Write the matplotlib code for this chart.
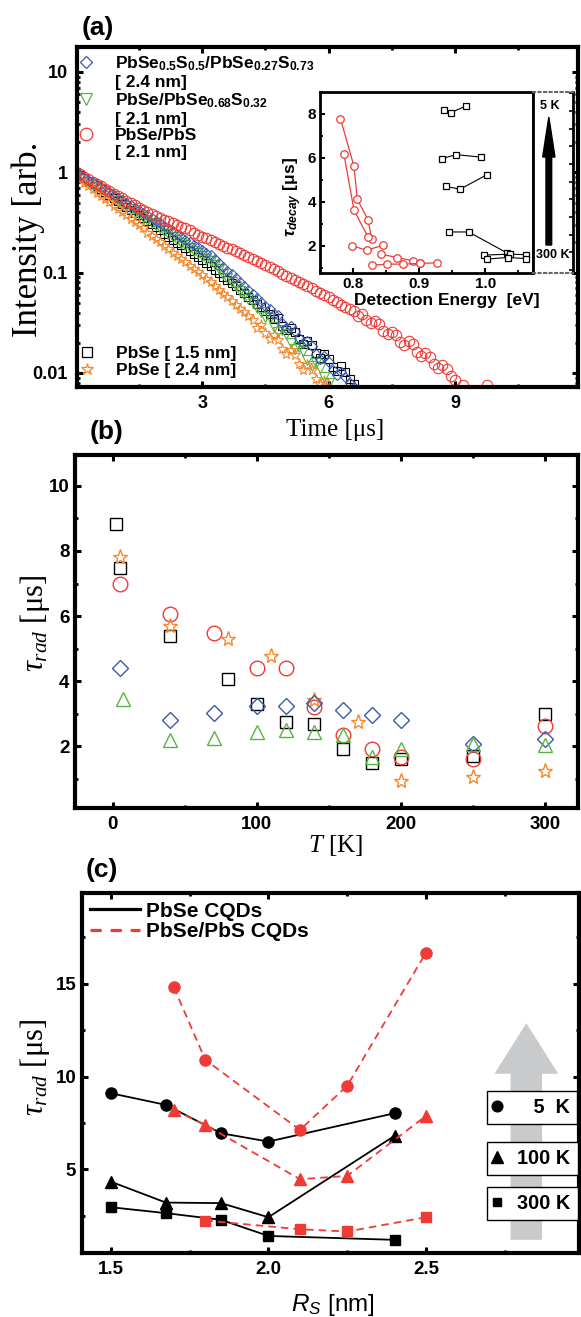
import numpy as np
import matplotlib
matplotlib.use("Agg")
import matplotlib.pyplot as plt
from matplotlib.lines import Line2D
from matplotlib.patches import FancyArrow
from matplotlib.ticker import MultipleLocator, LogLocator, NullFormatter

# ---------------- data ----------------
# (a) PL decay traces: log10(intensity), sampled every 0.1 us
t_step = 0.1
logI_pbse15 = [0.00, -0.03, -0.06, -0.09, -0.12, -0.14, -0.17, -0.20, -0.23, -0.26,
               -0.29, -0.32, -0.35, -0.38, -0.41, -0.43, -0.46, -0.49, -0.52, -0.55,
               -0.58, -0.61, -0.64, -0.67, -0.70, -0.72, -0.75, -0.78, -0.81, -0.84,
               -0.87, -0.90, -0.93, -0.97, -1.00, -1.04, -1.07, -1.10, -1.13, -1.17,
               -1.20, -1.24, -1.27, -1.31, -1.34, -1.38, -1.41, -1.46, -1.45, -1.53,
               -1.57, -1.55, -1.59, -1.66, -1.71, -1.68, -1.72, -1.80, -1.85, -1.81,
               -1.86, -1.94, -1.98, -1.93, -1.99, -2.06, -2.11]
logI_grad = [-0.02, -0.05, -0.07, -0.10, -0.13, -0.15, -0.18, -0.21, -0.24, -0.26,
             -0.29, -0.32, -0.34, -0.37, -0.40, -0.42, -0.45, -0.48, -0.51, -0.53,
             -0.56, -0.59, -0.61, -0.64, -0.67, -0.70, -0.72, -0.75, -0.78, -0.80,
             -0.83, -0.86, -0.88, -0.92, -0.96, -1.01, -1.05, -1.09, -1.13, -1.18,
             -1.22, -1.26, -1.30, -1.35, -1.39, -1.44, -1.45, -1.54, -1.59, -1.57,
             -1.61, -1.70, -1.76, -1.74, -1.78, -1.87, -1.93, -1.90, -1.95, -2.04,
             -2.10]
logI_alloy = [0.00, -0.03, -0.05, -0.08, -0.10, -0.13, -0.15, -0.18, -0.20, -0.23,
              -0.26, -0.28, -0.31, -0.33, -0.36, -0.38, -0.41, -0.43, -0.46, -0.49,
              -0.51, -0.54, -0.56, -0.59, -0.61, -0.64, -0.67, -0.69, -0.72, -0.74,
              -0.77, -0.80, -0.82, -0.86, -0.90, -0.94, -0.98, -1.01, -1.05, -1.09,
              -1.13, -1.17, -1.21, -1.25, -1.29, -1.33, -1.36, -1.41, -1.42, -1.50,
              -1.55, -1.53, -1.58, -1.65, -1.70, -1.68, -1.73, -1.81, -1.86, -1.83,
              -1.89, -1.97, -2.02, -1.99, -2.04, -2.10, -2.14]
logI_pbse24 = [-0.04, -0.07, -0.11, -0.14, -0.17, -0.21, -0.24, -0.27, -0.30, -0.34,
               -0.37, -0.40, -0.43, -0.47, -0.50, -0.53, -0.56, -0.60, -0.63, -0.66,
               -0.69, -0.73, -0.76, -0.80, -0.83, -0.86, -0.89, -0.93, -0.96, -0.99,
               -1.02, -1.06, -1.09, -1.13, -1.17, -1.21, -1.24, -1.28, -1.32, -1.36,
               -1.39, -1.43, -1.47, -1.55, -1.52, -1.60, -1.66, -1.62, -1.67, -1.76,
               -1.81, -1.77, -1.82, -1.91, -1.97, -1.92, -1.97, -2.06, -2.11, -2.08,
               -2.15]
logI_cs = [0.00, -0.02, -0.05, -0.07, -0.10, -0.12, -0.14, -0.17, -0.19, -0.22,
           -0.24, -0.26, -0.29, -0.31, -0.33, -0.36, -0.38, -0.40, -0.42, -0.44,
           -0.46, -0.48, -0.49, -0.51, -0.53, -0.55, -0.56, -0.58, -0.60, -0.62,
           -0.64, -0.65, -0.67, -0.69, -0.71, -0.73, -0.75, -0.76, -0.78, -0.80,
           -0.82, -0.84, -0.86, -0.88, -0.90, -0.92, -0.94, -0.96, -0.98, -1.01,
           -1.03, -1.05, -1.07, -1.09, -1.11, -1.13, -1.15, -1.18, -1.20, -1.22,
           -1.24, -1.27, -1.29, -1.32, -1.34, -1.36, -1.38, -1.43, -1.41, -1.47,
           -1.50, -1.48, -1.51, -1.58, -1.61, -1.59, -1.62, -1.69, -1.72, -1.68,
           -1.71, -1.79, -1.83, -1.80, -1.84, -1.91, -1.95, -1.92, -1.96, -2.03,
           -2.07]
t_cs_tail = [9.2, 9.75]
logI_cs_tail = [-2.12, -2.12]

# (a) inset: tau_decay vs detection energy
inset_red_E = [[0.781, 0.8015, 0.8065, 0.823, 0.828],
               [0.786, 0.8015, 0.8226],
               [0.799, 0.8206, 0.8457],
               [0.842, 0.867, 0.891, 0.901],
               [0.829, 0.852, 0.875, 0.901, 0.927]]
inset_red_tau = [[7.77, 5.61, 4.11, 3.16, 2.33],
                 [6.19, 3.62, 2.41],
                 [2.00, 1.80, 2.03],
                 [1.62, 1.47, 1.32, 1.20],
                 [1.12, 1.17, 1.17, 1.20, 1.23]]
inset_blk_E = [[0.937, 0.948, 0.971],
               [0.934, 0.956, 0.9936],
               [0.941, 0.962, 1.0026],
               [0.945, 0.975, 1.033],
               [0.9976, 1.037, 1.062],
               [1.0026, 1.034, 1.062]]
inset_blk_tau = [[8.15, 8.05, 8.35],
                 [5.96, 6.14, 6.03],
                 [4.70, 4.57, 5.23],
                 [2.63, 2.63, 1.68],
                 [1.58, 1.62, 1.60],
                 [1.40, 1.47, 1.42]]

# (b) tau_rad vs temperature
T_pbse15 = [2, 5, 40, 80, 100, 120, 140, 160, 180, 200, 250, 300]
tau_pbse15 = [8.82, 7.47, 5.38, 4.08, 3.29, 2.75, 2.68, 1.90, 1.47, 1.60, 1.69, 2.98]
T_cs = [5, 40, 70, 100, 120, 140, 160, 180, 200, 250, 300]
tau_cs = [6.98, 6.05, 5.47, 4.41, 4.41, 3.21, 2.34, 1.90, 1.67, 1.60, 2.62]
T_pbse24 = [5, 40, 80, 110, 140, 170, 200, 250, 300]
tau_pbse24 = [7.81, 5.69, 5.28, 4.77, 3.42, 2.75, 0.93, 1.04, 1.24]
T_alloy = [5, 40, 70, 100, 120, 140, 160, 180, 200, 250, 300]
tau_alloy = [4.39, 2.82, 3.01, 3.24, 3.24, 3.33, 3.11, 2.97, 2.82, 2.08, 2.21]
T_grad = [7, 40, 70, 100, 120, 140, 160, 180, 200, 250, 300]
tau_grad = [3.44, 2.18, 2.24, 2.44, 2.49, 2.44, 2.34, 1.67, 1.90, 2.06, 2.03]

# (c) tau_rad vs shell radius
Rs_pbse = [1.5, 1.675, 1.85, 2.0, 2.4]
tau_pbse_5K = [9.10, 8.47, 6.94, 6.49, 8.02]
tau_pbse_100K = [4.33, 3.20, 3.17, 2.41, 6.80]
tau_pbse_300K = [2.95, 2.63, 2.27, 1.40, 1.19]
Rs_cs = [1.7, 1.8, 2.1, 2.25, 2.5]
tau_cs_5K = [14.82, 10.90, 7.12, 9.50, 16.69]
tau_cs_100K = [8.20, 7.39, 4.46, 4.64, 7.88]
Rs_cs300 = [1.8, 2.1, 2.25, 2.5]
tau_cs_300K = [2.23, 1.76, 1.64, 2.41]

# ---------------- style ----------------
plt.rcParams['font.family'] = ['Liberation Sans', 'DejaVu Sans']
plt.rcParams['font.weight'] = 'bold'
plt.rcParams['mathtext.fontset'] = 'custom'
plt.rcParams['mathtext.rm'] = 'Liberation Sans:weight=normal'
plt.rcParams['mathtext.bf'] = 'Liberation Sans:weight=bold'
plt.rcParams['mathtext.it'] = 'Liberation Serif:slant=italic:weight=normal'
plt.rcParams['mathtext.sf'] = 'Liberation Sans:slant=italic:weight=normal'
plt.rcParams['mathtext.bfit'] = 'Liberation Sans:slant=italic:weight=bold'

c_red = '#ee3b36'
c_blue = '#3a5aab'
c_green = '#58b443'
c_orange = '#f5882a'
c_gray = '#c9cacc'
serif = ['Liberation Serif', 'DejaVu Serif']

W, H = 581, 1317
fig = plt.figure(figsize=(W / 100, H / 100), dpi=100)


def box(l, t, r, b):
    return [l / W, 1 - b / H, (r - l) / W, (b - t) / H]


def style_axes(ax, lw=3.0, fs=13):
    for s in ax.spines.values():
        s.set_linewidth(lw)
    ax.tick_params(which='major', direction='in', length=4.5, width=2.2,
                   top=True, right=True, labelsize=fs)
    ax.tick_params(which='minor', direction='in', length=2, width=2,
                   top=True, right=True)
    for lab in ax.get_xticklabels() + ax.get_yticklabels():
        lab.set_fontweight('bold')


# ================= (a) =================
ax_a = fig.add_axes(box(77, 47, 578, 387))
ax_a.set_yscale('log')
series_a = [
    (logI_pbse15, 's', 6, 'black'),
    (logI_grad, 'v', 6.5, c_green),
    (logI_alloy, 'D', 5, c_blue),
    (logI_pbse24, '*', 8, c_orange),
    (logI_cs, 'o', 7.5, c_red),
]
for logI, mk, ms, col in series_a:
    t = np.arange(len(logI)) * t_step
    ax_a.plot(t, 10 ** np.array(logI), ls='none', marker=mk, ms=ms, mfc='none',
              mec=col, mew=0.8)
ax_a.plot(t_cs_tail, 10 ** np.array(logI_cs_tail), ls='none', marker='o', ms=7.5,
          mfc='none', mec=c_red, mew=0.8)
ax_a.set_xlim(0.03, 11.92)
ax_a.set_ylim(10 ** -2.14, 10 ** 1.249)
ax_a.set_xticks([3, 6, 9])
ax_a.set_xticklabels(['3', '6', '9'])
ax_a.xaxis.set_minor_locator(MultipleLocator(1.5))
ax_a.set_yticks([10, 1, 0.1, 0.01])
ax_a.set_yticklabels(['10', '1', '0.1', '0.01'])
ax_a.yaxis.set_minor_locator(LogLocator(base=10, subs=np.arange(2, 10)))
ax_a.yaxis.set_minor_formatter(NullFormatter())
style_axes(ax_a)
ax_a.tick_params(axis='x', pad=5.5)
ax_a.tick_params(axis='y', pad=6.5)

h_top = [Line2D([], [], ls='none', marker='D', ms=6.5, mfc='none', mec=c_blue, mew=0.9),
         Line2D([], [], ls='none'),
         Line2D([], [], ls='none', marker='v', ms=8.5, mfc='none', mec=c_green, mew=0.9),
         Line2D([], [], ls='none'),
         Line2D([], [], ls='none', marker='o', ms=9, mfc='none', mec=c_red, mew=0.9),
         Line2D([], [], ls='none')]
l_top = [r'PbSe$_{\mathbf{0.5}}$S$_{\mathbf{0.5}}$/PbSe$_{\mathbf{0.27}}$S$_{\mathbf{0.73}}$',
         '[ 2.4 nm]',
         r'PbSe/PbSe$_{\mathbf{0.68}}$S$_{\mathbf{0.32}}$',
         '[ 2.1 nm]',
         'PbSe/PbS',
         '[ 2.1 nm]']
leg_a1 = ax_a.legend(h_top, l_top, loc='upper left', bbox_to_anchor=(0, 1), frameon=False,
                     fontsize=12.5, handlelength=0.2, handletextpad=1.56, borderaxespad=0.25,
                     borderpad=0.17, labelspacing=0.1, numpoints=1)
ax_a.add_artist(leg_a1)
h_bot = [Line2D([], [], ls='none', marker='s', ms=6.7, mfc='none', mec='black', mew=0.9),
         Line2D([], [], ls='none', marker='*', ms=9, mfc='none', mec=c_orange, mew=0.9)]
ax_a.legend(h_bot, ['PbSe [ 1.5 nm]', 'PbSe [ 2.4 nm]'], loc='lower left',
            bbox_to_anchor=(0, 0), frameon=False, fontsize=12.5, handlelength=0.2,
            handletextpad=1.56, borderaxespad=0.3, borderpad=0.2, labelspacing=0.1,
            numpoints=1)

# inset
axin = fig.add_axes(box(320, 91.7, 532.7, 272.7))
axin.set_facecolor('white')
for E, tau in zip(inset_red_E, inset_red_tau):
    axin.plot(E, tau, '-', color=c_red, lw=0.9, marker='o', ms=5.4, mfc='white',
              mec=c_red, mew=0.9)
for E, tau in zip(inset_blk_E, inset_blk_tau):
    axin.plot(E, tau, '-', color='black', lw=0.8, marker='s', ms=4.9, mfc='white',
              mec='black', mew=0.9)
axin.set_xlim(0.75, 1.072)
axin.set_ylim(0.78, 9)
axin.set_xticks([0.8, 0.9, 1.0])
axin.set_xticklabels(['0.8', '0.9', '1.0'])
axin.set_yticks([2, 4, 6, 8])
axin.set_yticklabels(['2', '4', '6', '8'])
axin.xaxis.set_minor_locator(MultipleLocator(0.05))
axin.yaxis.set_minor_locator(MultipleLocator(1))
for s in axin.spines.values():
    s.set_linewidth(2)
axin.tick_params(which='major', direction='in', length=3.5, width=1.5, labelsize=11, pad=3)
axin.tick_params(which='minor', direction='in', length=2, width=1.3)
for lab in axin.get_xticklabels() + axin.get_yticklabels():
    lab.set_fontweight('bold')
fig.text(446.5 / W, 1 - 300 / H, 'Detection Energy  [eV]', ha='center', va='center',
         fontsize=12.5, fontweight='bold')
fig.text(293 / W, 1 - 197 / H, r'$\mathbfit{\tau}_{\mathbfit{decay}}$ [μs]', rotation=90,
         ha='center', va='center', fontsize=12.5, fontweight='bold')

# temperature arrow panel
axar = fig.add_axes(box(532.7, 91.7, 573, 272.7))
axar.set_xlim(0, 1)
axar.set_ylim(0, 1)
axar.set_xticks([])
axar.yaxis.tick_right()
axar.set_yticks(np.linspace(0.015, 0.991, 11))
axar.set_yticklabels([])
axar.tick_params(axis='y', direction='in', length=3, width=1.2)
axar.spines['left'].set_linewidth(2)
axar.spines['right'].set_linewidth(2)
for sp in ('top', 'bottom'):
    axar.spines[sp].set_linestyle(':')
    axar.spines[sp].set_color('#666666')
    axar.spines[sp].set_linewidth(1.5)
axar.add_patch(FancyArrow(0.40, 0.153, 0, 0.707, width=0.141, head_width=0.305,
                          head_length=0.221, length_includes_head=True, color='black'))
axar.text(0.43, 0.92, '5 K', ha='center', va='center', fontsize=9, fontweight='bold')
axar.text(0.505, 0.098, '300 K', ha='center', va='center', fontsize=9, fontweight='bold',
          clip_on=False)

fig.text(28 / W, 1 - 337 / H, 'Intensity [arb.', rotation=90, ha='center', va='bottom',
         fontsize=25, family=serif, fontweight='normal')
fig.text(335 / W, 1 - 430 / H, 'Time [μs]', ha='center', va='center', fontsize=18,
         family=serif, fontweight='normal')
fig.text(82 / W, 1 - 27.5 / H, '(a)', ha='left', va='center', fontsize=19, fontweight='bold')

# ================= (b) =================
ax_b = fig.add_axes(box(75, 455, 578, 808))
ax_b.plot(T_pbse15, tau_pbse15, ls='none', marker='s', ms=9, mfc='none', mec='black', mew=1.0)
ax_b.plot(T_cs, tau_cs, ls='none', marker='o', ms=10.5, mfc='none', mec=c_red, mew=1.0)
ax_b.plot(T_pbse24, tau_pbse24, ls='none', marker='*', ms=11, mfc='none', mec=c_orange, mew=1.0)
ax_b.plot(T_alloy, tau_alloy, ls='none', marker='D', ms=8, mfc='none', mec=c_blue, mew=1.0)
ax_b.plot(T_grad, tau_grad, ls='none', marker='^', ms=10.5, mfc='none', mec=c_green, mew=1.0)
ax_b.set_xlim(-26.2, 323.1)
ax_b.set_ylim(0.1, 10.95)
ax_b.set_xticks([0, 100, 200, 300])
ax_b.set_xticklabels(['0', '100', '200', '300'])
ax_b.xaxis.set_minor_locator(MultipleLocator(50))
ax_b.set_yticks([2, 4, 6, 8, 10])
ax_b.set_yticklabels(['2', '4', '6', '8', '10'])
ax_b.yaxis.set_minor_locator(MultipleLocator(1))
style_axes(ax_b, fs=13.5)
ax_b.tick_params(axis='x', pad=5.5)
ax_b.tick_params(axis='y', pad=4)
fig.text(35 / W, 1 - 623 / H, r'$\tau_{rad}$ [μs]', rotation=90, ha='center', va='center',
         fontsize=22, family=serif, fontweight='normal')
fig.text(336 / W, 1 - 845 / H, r'$T$ [K]', ha='center', va='center', fontsize=18,
         family=serif, fontweight='normal')
fig.text(90 / W, 1 - 432 / H, '(b)', ha='left', va='center', fontsize=19, fontweight='bold')

# ================= (c) =================
ax_c = fig.add_axes(box(81.7, 893, 579, 1253))
ax_c.add_patch(FancyArrow(2.818, 1.19, 0, 11.69, width=0.1, head_width=0.202,
                          head_length=2.73, length_includes_head=True, color=c_gray,
                          lw=0, zorder=0.5))
for tau, mk, ms in [(tau_pbse_5K, 'o', 8), (tau_pbse_100K, '^', 8.5), (tau_pbse_300K, 's', 7.5)]:
    ax_c.plot(Rs_pbse, tau, '-', color='black', lw=1.3, marker=mk, ms=ms)
for rs, tau, mk, ms in [(Rs_cs, tau_cs_5K, 'o', 8), (Rs_cs, tau_cs_100K, '^', 8.5),
                        (Rs_cs300, tau_cs_300K, 's', 7.5)]:
    ax_c.plot(rs, tau, '--', color=c_red, lw=1.3, dashes=(4.2, 2.8), marker=mk, ms=ms)
ax_c.set_xlim(1.408, 2.985)
ax_c.set_ylim(0.48, 19.9)
ax_c.set_xticks([1.5, 2.0, 2.5])
ax_c.set_xticklabels(['1.5', '2.0', '2.5'])
ax_c.xaxis.set_minor_locator(MultipleLocator(0.25))
ax_c.set_yticks([5, 10, 15])
ax_c.set_yticklabels(['5', '10', '15'])
ax_c.yaxis.set_minor_locator(MultipleLocator(2.5))
style_axes(ax_c, fs=13.5)
ax_c.tick_params(axis='x', pad=6)
ax_c.tick_params(axis='y', pad=4)

for lab, mk, ms, ytop in [('   5  K', 'o', 7.7, 0.45), ('100 K', '^', 8.5, 0.3075),
                          ('300 K', 's', 6.2, 0.1825)]:
    lg = ax_c.legend([Line2D([], [], ls='none', marker=mk, ms=ms, color='black')], [lab],
                     loc='upper left', bbox_to_anchor=(0.8156, ytop), borderaxespad=0,
                     frameon=True, fancybox=False, edgecolor='black', framealpha=1,
                     fontsize=14.3, handlelength=0.3, handletextpad=0.87, borderpad=0.35,
                     numpoints=1)
    lg.get_frame().set_linewidth(1.0)
    ax_c.add_artist(lg)

h_c = [Line2D([], [], color='black', lw=2.3),
       Line2D([], [], color=c_red, lw=2.3, ls='--', dashes=(3.5, 2.8))]
ax_c.legend(h_c, ['PbSe CQDs', 'PbSe/PbS CQDs'], loc='upper left', bbox_to_anchor=(0, 1),
            frameon=False, fontsize=15, handlelength=2.4, handletextpad=0.27,
            borderaxespad=0.2, borderpad=0.22, labelspacing=0.05)

fig.text(35 / W, 1 - 1067 / H, r'$\tau_{rad}$ [μs]', rotation=90, ha='center', va='center',
         fontsize=22, family=serif, fontweight='normal')
fig.text(333 / W, 1 - 1305 / H, r'$\mathsf{R}_{\mathsf{S}}$ [nm]', ha='center', va='center',
         fontsize=17.5, fontweight='normal')
fig.text(86 / W, 1 - 870 / H, '(c)', ha='left', va='center', fontsize=19, fontweight='bold')

fig.savefig('out.png', dpi=100)
